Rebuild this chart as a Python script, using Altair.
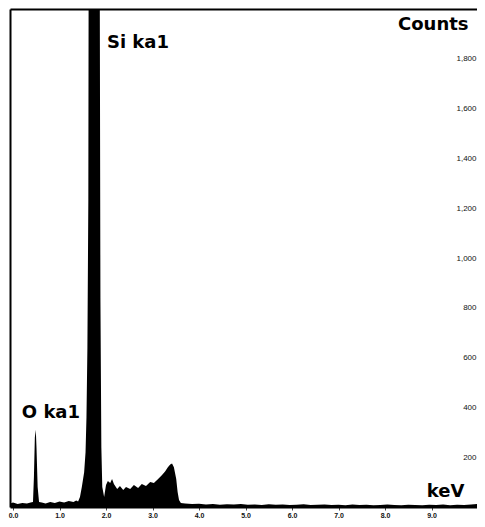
import altair as alt
import pandas as pd

# Spectrum (energy in keV, counts)
energy = [-0.06, 0.0, 0.1, 0.2, 0.3, 0.38, 0.43, 0.45, 0.47, 0.49, 0.505, 0.53, 0.56,
          0.62, 0.7, 0.8, 0.9, 1.0, 1.1, 1.2, 1.3, 1.36, 1.40, 1.44, 1.48, 1.53, 1.56,
          1.58, 1.60, 1.62, 1.63, 1.745, 1.86, 1.88, 1.90, 1.92, 1.96,
          2.00, 2.04, 2.09, 2.13, 2.17, 2.24, 2.30, 2.37, 2.43, 2.52, 2.60, 2.69, 2.77,
          2.86, 2.95, 3.03, 3.12, 3.20, 3.27, 3.33, 3.38, 3.42, 3.46, 3.51, 3.54, 3.57, 3.61,
          3.7, 3.85, 4.0, 4.15, 4.3, 4.45, 4.6, 4.75, 4.9, 5.05, 5.2, 5.35, 5.5, 5.65, 5.8,
          5.95, 6.1, 6.25, 6.4, 6.55, 6.7, 6.85, 7.0, 7.15, 7.3, 7.45, 7.6, 7.75, 7.9, 8.05,
          8.2, 8.35, 8.5, 8.65, 8.8, 8.95, 9.1, 9.25, 9.4, 9.55, 9.7, 9.85, 10.0, 10.15]
counts = [14, 18, 12, 16, 14, 18, 20, 120, 280, 310, 240, 80, 20,
          18, 14, 20, 16, 22, 18, 24, 20, 26, 22, 40, 80, 140, 220,
          360, 640, 1235, 2600, 3000, 2600, 840, 240, 80, 40,
          88, 104, 96, 112, 92, 72, 84, 68, 80, 72, 88, 76, 92,
          84, 100, 96, 112, 128, 143, 160, 171, 175, 160, 112, 60, 28, 16,
          14, 12, 13, 10, 12, 9, 11, 10, 12, 9, 10, 8, 11, 9, 10,
          8, 9, 11, 8, 9, 10, 8, 9, 7, 10, 8, 9, 7, 8, 10,
          8, 7, 9, 8, 7, 9, 8, 10, 7, 9, 8, 10, 12, 9]

x_ticks = [0, 1, 2, 3, 4, 5, 6, 7, 8, 9, 10]
y_ticks = [200, 400, 600, 800, 1000, 1200, 1400, 1600, 1800]

ann_text = ["Si ka1", "O ka1", "Counts", "keV"]
ann_x = [2.02, 0.19, 8.28, 8.9]
ann_y = [1843, 357, 1916, 40]

df = pd.DataFrame({"keV": energy, "Counts": counts})
ann = pd.DataFrame({"keV": ann_x, "Counts": ann_y, "text": ann_text})

xscale = alt.Scale(domain=[-0.0645, 9.978], nice=False, zero=False)
yscale = alt.Scale(domain=[0, 2000], nice=False)

area = alt.Chart(df).mark_area(color="black", clip=True, interpolate="linear").encode(
    x=alt.X("keV:Q", scale=xscale,
            axis=alt.Axis(orient="bottom", values=x_ticks, format=".1f", title=None,
                          labelFontSize=7, labelFontWeight="bold", labelColor="#111",
                          domainWidth=2, domainColor="black", tickSize=3, tickColor="#444",
                          labelPadding=1, grid=False)),
    y=alt.Y("Counts:Q", scale=yscale,
            axis=alt.Axis(orient="right", values=y_ticks, format=",d", title=None,
                          labelAlign="right", labelPadding=-1, ticks=False, domain=False,
                          grid=False, labelFontSize=8, labelColor="#111",
                          labelBaseline="middle")),
)

text = alt.Chart(ann).mark_text(
    align="left", baseline="alphabetic", fontWeight="bold", fontSize=18,
    font="DejaVu Sans", color="black"
).encode(
    x=alt.X("keV:Q", scale=xscale,
            axis=alt.Axis(orient="top", labels=False, ticks=False, title=None,
                          domainWidth=2, domainColor="black", grid=False)),
    y=alt.Y("Counts:Q", scale=yscale,
            axis=alt.Axis(orient="left", labels=False, ticks=False, title=None,
                          domainWidth=2, domainColor="black", grid=False)),
    text="text:N",
)

chart = alt.layer(area, text).resolve_axis(
    x="independent", y="independent"
).properties(
    width=467, height=498,
    padding={"left": 2, "top": 1, "right": 0, "bottom": 11},
    autosize=alt.AutoSizeParams(type="none"),
    background="white",
).configure_view(stroke=None)

chart.save("out.html", embed_options={"renderer": "svg", "actions": False})
